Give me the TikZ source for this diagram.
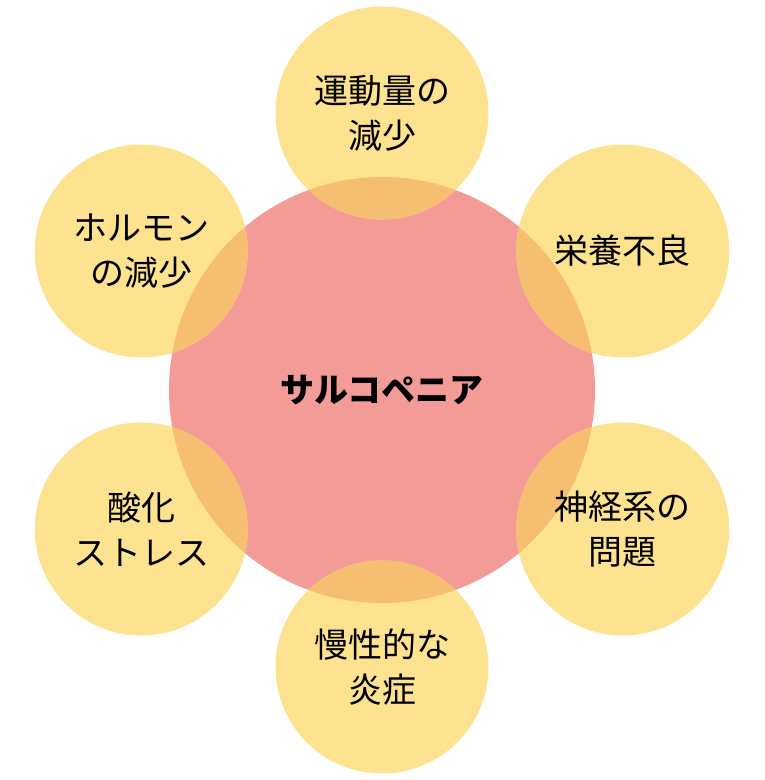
\documentclass[tikz,border=0pt]{standalone}
\usepackage{fontspec}
\setmainfont{Noto Sans CJK JP}
\usepackage{tikz}
\usetikzlibrary{positioning}
\definecolor{corepink}{HTML}{F29B97}
\definecolor{factoryellow}{HTML}{FDE38F}
\definecolor{overlaporange}{HTML}{F6BE70}
\tikzset{
core_circle/.style={circle, fill=corepink, minimum size=426pt, inner sep=0pt},
factor/.style={circle, fill=factoryellow, minimum size=213pt, inner sep=0pt},
core_text/.style={font=\fontsize{34}{45}\selectfont\bfseries},
factor_text/.style={align=center, font=\fontsize{34}{45}\selectfont}
}

\begin{document}
\begin{tikzpicture}[x=1pt, y=1pt]
    \useasboundingbox (0,0) rectangle (765,780);
    \node[core_circle] (core) at (382,390) {};
    \node[factor] (motion) at ([shift={(90:277pt)}]core.center) {};
    \node[factor] (nutrition) at ([shift={(30:278pt)}]core.center) {};
    \node[factor] (nerve) at ([shift={(-30:278pt)}]core.center) {};
    \node[factor] (inflammation) at ([shift={(-90:277pt)}]core.center) {};
    \node[factor] (oxidation) at ([shift={(210:278pt)}]core.center) {};
    \node[factor] (hormone) at ([shift={(150:278pt)}]core.center) {};
    % overlaps of core and factors
    \begin{scope}
        \clip (core.center) circle (213pt);
        \fill[overlaporange] (motion.center) circle (106.5pt);
        \fill[overlaporange] (nutrition.center) circle (106.5pt);
        \fill[overlaporange] (nerve.center) circle (106.5pt);
        \fill[overlaporange] (inflammation.center) circle (106.5pt);
        \fill[overlaporange] (oxidation.center) circle (106.5pt);
        \fill[overlaporange] (hormone.center) circle (106.5pt);
    \end{scope}
    % texts
    \node[core_text] (core_label) at (core.center) {サルコペニア};
    \node[factor_text] (motion_label) at (motion.center) {運動量の\\減少};
    \node[factor_text] (nutrition_label) at (nutrition.center) {栄養不良};
    \node[factor_text] (nerve_label) at (nerve.center) {神経系の\\問題};
    \node[factor_text] (inflammation_label) at (inflammation.center) {慢性的な\\炎症};
    \node[factor_text] (oxidation_label) at (oxidation.center) {酸化\\ストレス};
    \node[factor_text] (hormone_label) at (hormone.center) {ホルモン\\の減少};
\end{tikzpicture}
\end{document}
